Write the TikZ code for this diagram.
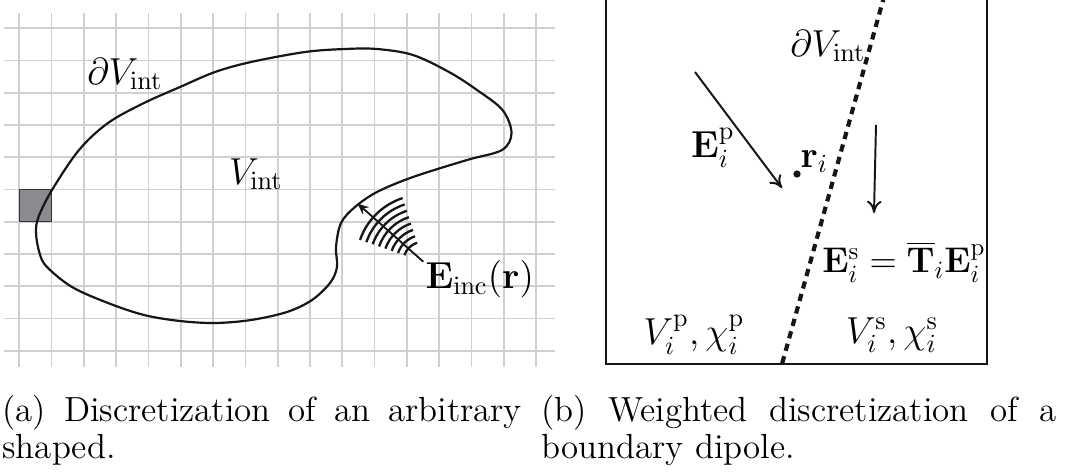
\documentclass[tikz,border=0pt]{standalone}
\usepackage{amsmath}
\usepackage{xcolor}
\usepackage{tikz}
\usetikzlibrary{arrows.meta, calc}
\definecolor{gridGray}{RGB}{208,208,208}
\definecolor{cellGray}{RGB}{138,138,144}
\definecolor{lineInk}{RGB}{22,22,22}
\newcommand{\lblfont}{\fontsize{14.4}{16}\selectfont}
\newcommand{\captfont}{\fontsize{14.3}{15}\selectfont}

\begin{document}
\begin{tikzpicture}[x=0.41pt,y=-0.41pt,
  gridline/.style={draw=gridGray,line width=0.7pt},
  outline/.style={draw=lineInk,line width=0.9pt},
  wavefront/.style={draw=lineInk,line width=0.95pt},
  lbl/.style={font=\lblfont,inner sep=0pt,scale=1.07},
  capt/.style={font=\captfont,text width=213pt,align=justify,
               anchor=north west,inner sep=0pt},
  arr/.style={-{To[length=5pt,width=6pt]},line width=0.8pt,draw=lineInk},
  boundary/.style={draw=lineInk,line width=1.7pt,dash pattern=on 3pt off 2.3pt}]
\useasboundingbox (0,0) rectangle (1067,472);

% ===== PANEL (a) — grid with the arbitrary scatterer =====
\foreach \k in {0,...,16}
  \draw[gridline] (19.3+32.3*\k,12.7) -- (19.3+32.3*\k,366.7);
\foreach \k in {0,...,10}
  \draw[gridline] (4.3,28.3+32.24*\k) -- (554.6,28.3+32.24*\k);
% one voxel of the discretization
\draw[fill=cellGray,draw=black!80,line width=0.5pt] (19.3,189.5) rectangle (51.6,221.7);
% boundary dV_int
\draw[outline] plot[smooth cycle,tension=0.55] coordinates {
  (36,233) (39.5,253) (46.7,266.7) (72,287) (108,303) (144,315) (180,321)
  (215,323) (251,320) (287,312) (312,300) (330,283) (337,267) (336,247)
  (341,223) (355,207) (377,192) (413,177) (467,160) (502,150) (511.5,133)
  (502.5,110) (477,90) (449,72) (413,55) (377,49) (345,49) (305,52)
  (251,62) (215,72) (180,87) (144,103) (108,123) (79,150) (52,190) (38.5,217)};
\node[lbl] (dVa) at (125,74) {$\partial V_{\mathrm{int}}$};
\node[lbl] (Va) at (256,174) {$V_{\mathrm{int}}$};

% incident field, wavefronts + propagation arrow
\coordinate (src) at (423.3,261.7);
\coordinate (hit) at (357.5,203.5);
\foreach \r in {20,26.7,...,67}
  \draw[wavefront] ($(src)+(-108:\r)$) arc[start angle=-108,end angle=-161,radius=\r];
\draw[-{Stealth[length=4.5pt,width=3.8pt]},line width=0.75pt,draw=lineInk] (src) -- (hit);
\node[lbl,anchor=west] (Einc) at (425,279) {$\mathbf{E}_{\mathrm{inc}}(\mathbf{r})$};

% ===== PANEL (b) — boundary dipole =====
\coordinate (boxTL) at (606,-5);
\coordinate (boxBL) at (606,364);
\coordinate (boxBR) at (987,364);
\coordinate (boxTR) at (987,-5);
\draw[line width=0.95pt,draw=lineInk] (boxTL) -- (boxBL) -- (boxBR) -- (boxTR);
% dotted interface
\coordinate (ifTop) at (884.5,-5);
\coordinate (ifBot) at (782,364);
\draw[boundary] (ifTop) -- (ifBot);
\node[lbl] (dVb) at (828,46) {$\partial V_{\mathrm{int}}$};

% primary and secondary fields
\coordinate (Ep0) at (695,72);
\coordinate (Ep1) at (782,188);
\draw[arr] (Ep0) -- (Ep1);
\coordinate (Es0) at (876,125);
\coordinate (Es1) at (874,213);
\draw[arr] (Es0) -- (Es1);
\node[lbl] (Ep) at (713,148) {$\mathbf{E}_i^{\mathrm{p}}$};
\node[circle,fill=lineInk,inner sep=0pt,minimum size=3pt] (ri) at (797,174) {};
\node[lbl,anchor=base west] (rilbl) at (800,167) {$\mathbf{r}_i$};
\node[lbl,scale=0.95] (Es) at (904,262) {$\mathbf{E}_i^{\mathrm{s}}=\overline{\mathbf{T}}_i\mathbf{E}_i^{\mathrm{p}}$};
\node[lbl] (Vp) at (694,335) {$V_i^{\mathrm{p}},\chi_i^{\mathrm{p}}$};
\node[lbl] (Vs) at (892,335) {$V_i^{\mathrm{s}},\chi_i^{\mathrm{s}}$};

% ===== captions =====
\node[capt] (capA) at (2,395) {(a) Discretization of an arbitrary shaped.};
\node[capt,text width=211pt] (capB) at (541,395) {(b) Weighted discretization of a boundary dipole.};
\end{tikzpicture}
\end{document}
